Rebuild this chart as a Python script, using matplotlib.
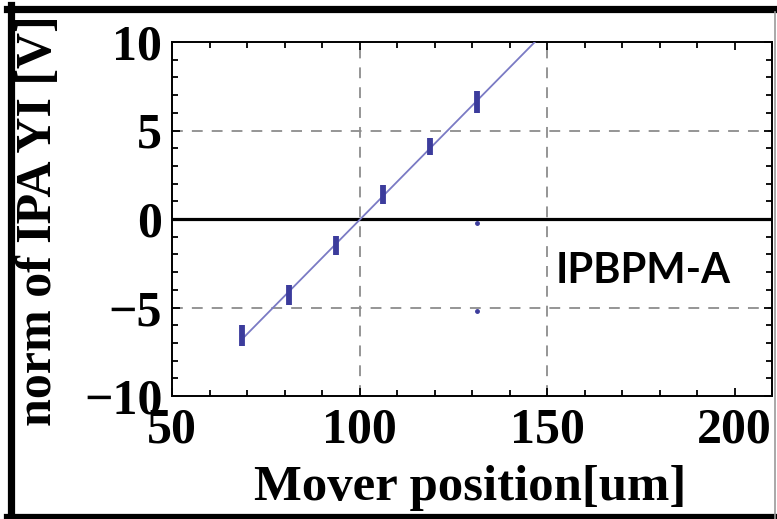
import numpy as np
import matplotlib
matplotlib.use("Agg")
import matplotlib.pyplot as plt
from matplotlib.lines import Line2D
from matplotlib.ticker import MultipleLocator

# mover position [um] and measured norm of IPA YI [V]
pos = [68.75, 81.25, 93.75, 106.25, 118.75, 131.25]
volt = [-6.6, -4.3, -1.5, 1.38, 4.1, 6.6]
err = [0.6, 0.57, 0.52, 0.52, 0.5, 0.62]
# two stray points at the last position
stray_x = [131.25, 131.25]
stray_y = [-0.2, -5.2]

bar_col = "#3c3c9c"
fit_col = "#7a7ac4"
serif = ["Liberation Serif", "DejaVu Serif"]

W, H = 777, 519
fig = plt.figure(figsize=(W / 100, H / 100), dpi=100)
ax = fig.add_axes([172 / W, 1 - 396 / H, (772 - 172) / W, (396 - 42) / H])

# linear fit
a, b = np.polyfit(pos, volt, 1)
xf = np.array([pos[0], 210])
ax.plot(xf, a * xf + b, color=fit_col, lw=1.3, zorder=3)

ax.errorbar(pos, volt, yerr=err, fmt="none", ecolor=bar_col, elinewidth=4.2,
            capsize=0, zorder=4)
ax.plot(stray_x, stray_y, "o", color=bar_col, ms=2.5, zorder=4)

ax.axhline(0, color="black", lw=2.3, zorder=2)
for gx in [100, 150]:
    ax.axvline(gx, color="#8c8c8c", lw=1.3, ls=(0, (6, 5)), zorder=1)
for gy in [-5, 5]:
    ax.axhline(gy, color="#8c8c8c", lw=1.3, ls=(0, (6, 5)), zorder=1)

ax.set_xlim(50, 210)
ax.set_ylim(-10, 10)
ax.xaxis.set_major_locator(MultipleLocator(50))
ax.xaxis.set_minor_locator(MultipleLocator(10))
ax.yaxis.set_minor_locator(MultipleLocator(1))
ax.set_yticks([-10, -5, 0, 5, 10])
ax.set_yticklabels(["\u221210", "\u22125", "0", "5", "10"])
ax.tick_params(which="both", direction="in", top=True, right=True, width=1.3)
ax.tick_params(which="major", length=6)
ax.tick_params(which="minor", length=4)
ax.tick_params(axis="y", pad=7)
ax.tick_params(axis="x", pad=8)
for lab in ax.get_xticklabels() + ax.get_yticklabels():
    lab.set_family(serif)
    lab.set_fontweight("bold")
    lab.set_fontsize(36)
for s in ax.spines.values():
    s.set_linewidth(1.4)

fig.text(470 / W, 1 - 500 / H, "Mover position[um]", family=serif, fontweight="bold",
         fontsize=36.5, ha="center", va="baseline")
fig.text(39 / W, 1 - 221 / H, "norm of IPA YI [V]", family=serif, fontweight="bold",
         fontsize=36, ha="center", va="center", rotation=90)
ax.text(643 / W, 1 - 283 / H, "IPBPM-A", transform=fig.transFigure,
        family=["Lato", "DejaVu Sans"], fontweight="bold", fontsize=30,
        ha="center", va="baseline")

# outer frame of the picture
fig.add_artist(Line2D([10.5 / W, 10.5 / W], [0, 1 - 5 / H], color="black", lw=5.2))
fig.add_artist(Line2D([7 / W, 1], [1 - 8.5 / H, 1 - 8.5 / H], color="black", lw=5.2))
fig.add_artist(Line2D([7 / W, 1], [1 - 516.5 / H, 1 - 516.5 / H], color="black", lw=4.5))
fig.add_artist(Line2D([775 / W, 775 / W], [0, 1 - 12 / H], color="#9a9a9a", lw=1.2))

fig.savefig("out.png", dpi=100)
